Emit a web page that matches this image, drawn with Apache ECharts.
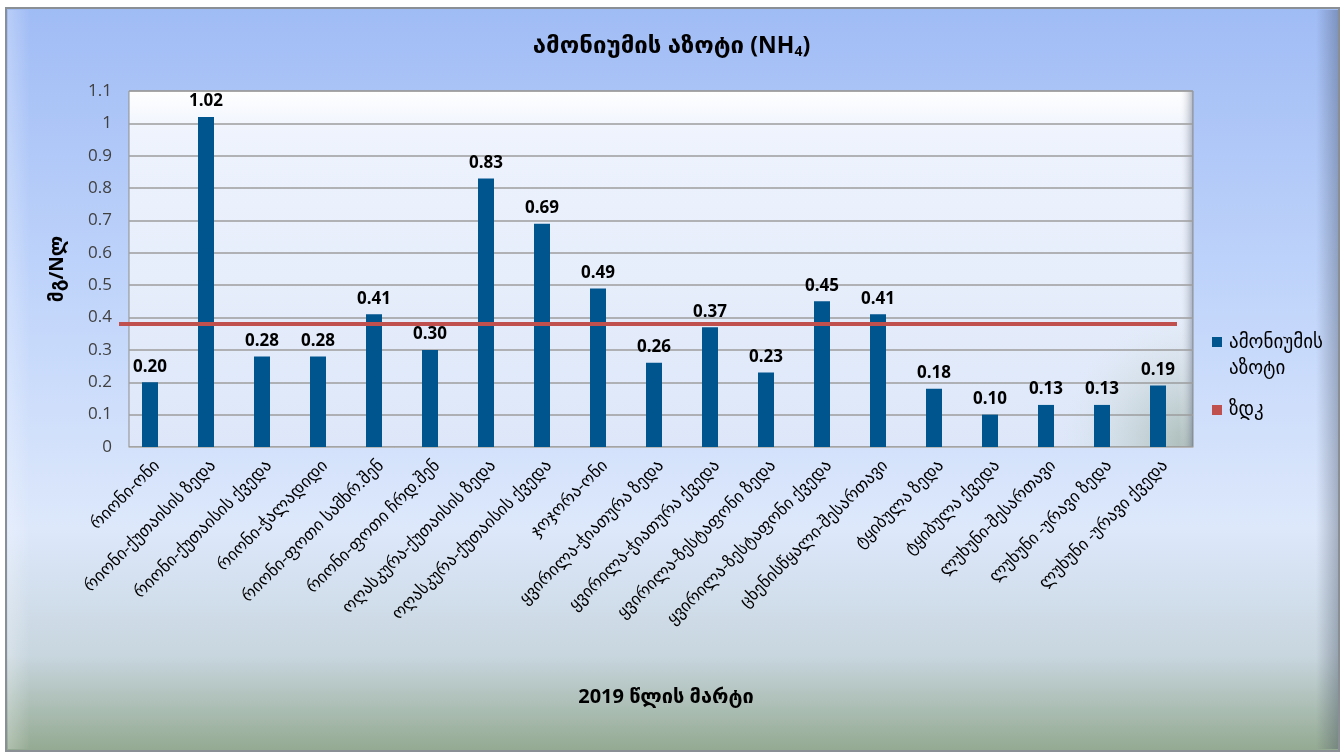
<!DOCTYPE html>
<html>
<head>
<meta charset="utf-8">
<script src="https://cdn.jsdelivr.net/npm/echarts@6/dist/echarts.min.js"></script>
<style>
  html, body { margin: 0; padding: 0; background: #ffffff; }
  #chart { width: 1343px; height: 754px; }
</style>
</head>
<body>
<div id="chart"></div>
<script>
// Monitoring points (March 2019)
const categories = [
  'რიონი-ონი',
  'რიონი-ქუთაისის ზედა',
  'რიონი-ქუთაისის ქვედა',
  'რიონი-ჭალადიდი',
  'რიონი-ფოთი სამხრ.შენ',
  'რიონი-ფოთი ჩრდ.შენ',
  'ოღასკურა-ქუთაისის ზედა',
  'ოღასკურა-ქუთაისის ქვედა',
  'ჯოჯორა-ონი',
  'ყვირილა-ჭიათურა ზედა',
  'ყვირილა-ჭიათურა ქვედა',
  'ყვირილა-ზესტაფონი ზედა',
  'ყვირილა-ზესტაფონი ქვედა',
  'ცხენისწყალი-შესართავი',
  'ტყიბულა ზედა',
  'ტყიბულა ქვედა',
  'ლუხუნი-შესართავი',
  'ლუხუნი -ურავი ზედა',
  'ლუხუნი -ურავი ქვედა'
];

// Ammonium nitrogen, mg/l
const ammonium = [0.20, 1.02, 0.28, 0.28, 0.41, 0.30, 0.83, 0.69, 0.49, 0.26,
                  0.37, 0.23, 0.45, 0.41, 0.18, 0.10, 0.13, 0.13, 0.19];

// Maximum permissible concentration
const limitValue = 0.38;

const yTicks = { min: 0, max: 1.1, interval: 0.1 };

const seriesNames = { bars: 'ამონიუმის აზოტი', limit: 'ზდკ' };
const titleMain = 'ამონიუმის აზოტი';
const yName = 'მგ/Nლ';
const xName = '2019 წლის მარტი';

const FONT = "'Open Sans', 'DejaVu Sans', sans-serif";
const BAR = '#00558f';
const RED = '#c0504d';

const chart = echarts.init(document.getElementById('chart'), null, { renderer: 'canvas' });

const plot = { left: 129, top: 91, width: 1064, height: 356 };

chart.setOption({
  animation: false,
  backgroundColor: '#ffffff',
  graphic: [
    // outer frame
    {
      type: 'rect', z: -10, silent: true,
      shape: { x: 6, y: 8, width: 1333, height: 743 },
      style: {
        fill: new echarts.graphic.LinearGradient(0, 0, 0, 1, [
          { offset: 0, color: '#a0bcf5' },
          { offset: 0.4, color: '#c2d6fb' },
          { offset: 0.7, color: '#dde8fb' },
          { offset: 0.87, color: '#c8d6df' },
          { offset: 1, color: '#93a990' }
        ]),
        stroke: '#8a8f96', lineWidth: 2
      }
    },
    // bevel shading of the frame
    {
      type: 'rect', z: -9, silent: true,
      shape: { x: 8, y: 10, width: 22, height: 739 },
      style: {
        fill: new echarts.graphic.LinearGradient(0, 0, 1, 0, [
          { offset: 0, color: 'rgba(255,255,255,0.25)' },
          { offset: 1, color: 'rgba(255,255,255,0)' }
        ])
      }
    },
    {
      type: 'rect', z: -9, silent: true,
      shape: { x: 1316, y: 10, width: 22, height: 739 },
      style: {
        fill: new echarts.graphic.LinearGradient(0, 0, 1, 0, [
          { offset: 0, color: 'rgba(60,70,90,0)' },
          { offset: 1, color: 'rgba(60,70,90,0.35)' }
        ])
      }
    },
    // plot wall
    {
      type: 'rect', z: -8, silent: true,
      shape: { x: plot.left, y: plot.top, width: plot.width, height: plot.height },
      style: {
        fill: new echarts.graphic.LinearGradient(0, 0, 0, 1, [
          { offset: 0, color: '#ffffff' },
          { offset: 0.12, color: '#eef3fd' },
          { offset: 1, color: '#dde7f9' }
        ]),
        stroke: '#8d8d8d', lineWidth: 1
      }
    },
    // shaded lower-right corner of the wall
    {
      type: 'rect', z: -7, silent: true,
      shape: { x: 1040, y: 300, width: 153, height: 147 },
      style: {
        fill: new echarts.graphic.RadialGradient(1, 1, 0.9, [
          { offset: 0, color: 'rgba(120,145,120,0.55)' },
          { offset: 1, color: 'rgba(200,215,205,0)' }
        ])
      }
    },
    // right side wall
    {
      type: 'rect', z: -7, silent: true,
      shape: { x: 1179, y: plot.top, width: 14, height: plot.height },
      style: {
        fill: new echarts.graphic.LinearGradient(0, 0, 1, 0, [
          { offset: 0, color: 'rgba(255,255,255,0)' },
          { offset: 1, color: 'rgba(110,120,140,0.55)' }
        ])
      }
    },
    // legend
    {
      type: 'rect', silent: true,
      shape: { x: 1212, y: 337, width: 10, height: 10 },
      style: { fill: BAR }
    },
    {
      type: 'text', silent: true,
      x: 1229, y: 330,
      style: {
        text: 'ამონიუმის\nაზოტი', font: '19px ' + FONT, fill: '#000',
        lineHeight: 26, verticalAlign: 'top'
      }
    },
    {
      type: 'rect', silent: true,
      shape: { x: 1212, y: 405, width: 10, height: 10 },
      style: { fill: RED }
    },
    {
      type: 'text', silent: true,
      x: 1229, y: 410,
      style: { text: seriesNames.limit, font: '19px ' + FONT, fill: '#000', verticalAlign: 'middle' }
    }
  ],
  title: [
    {
      text: '{g|' + titleMain + ' }{n|(NH}{s|4}{n|)}',
      left: 'center', top: 28,
      textStyle: {
        rich: {
          g: { fontFamily: FONT, fontSize: 24, fontWeight: 'bold', color: '#000' },
          n: { fontFamily: FONT, fontSize: 23, fontWeight: 'bold', color: '#000' },
          s: { fontFamily: FONT, fontSize: 14, fontWeight: 'bold', color: '#000', verticalAlign: 'bottom', padding: [12, 0, 0, 0] }
        }
      }
    },
    {
      text: xName,
      left: 661, top: 682, textAlign: 'center',
      textStyle: { fontFamily: FONT, fontSize: 20, fontWeight: 'bold', color: '#000' }
    }
  ],
  grid: [
    // axes, ticks and gridlines
    { left: plot.left, top: plot.top, width: plot.width, height: plot.height, containLabel: false },
    // columns (drawn slightly forward in depth)
    { left: plot.left - 7, top: plot.top, width: plot.width, height: plot.height, containLabel: false },
    // limit line
    { left: 119, top: plot.top, width: 1058, height: plot.height, containLabel: false }
  ],
  xAxis: [
    {
      type: 'category', gridIndex: 0, data: categories,
      axisLine: { show: true, lineStyle: { color: '#b8b8b8', width: 1 } },
      axisTick: { show: false },
      axisLabel: {
        interval: 0, rotate: 45, margin: 16,
        fontFamily: FONT, fontSize: 17, color: '#000'
      }
    },
    {
      type: 'category', gridIndex: 1, data: categories, show: false
    },
    {
      type: 'value', gridIndex: 2, min: 0, max: 1, show: false
    }
  ],
  yAxis: [
    {
      type: 'value', gridIndex: 0, min: yTicks.min, max: yTicks.max, interval: yTicks.interval,
      name: yName, nameLocation: 'middle', nameGap: 62, nameRotate: 90,
      nameTextStyle: { fontFamily: FONT, fontSize: 19, fontWeight: 'bold', color: '#000' },
      axisLine: { show: false },
      axisTick: { show: false },
      axisLabel: {
        margin: 17, fontFamily: FONT, fontSize: 17, color: '#404040',
        formatter: v => String(Math.round(v * 10) / 10)
      },
      splitLine: { show: true, lineStyle: { color: '#9c9c9c', width: 1.5 } }
    },
    {
      type: 'value', gridIndex: 1, min: yTicks.min, max: yTicks.max, show: false
    },
    {
      type: 'value', gridIndex: 2, min: yTicks.min, max: yTicks.max, show: false
    }
  ],
  series: [
    {
      name: seriesNames.bars,
      type: 'bar',
      xAxisIndex: 1, yAxisIndex: 1,
      data: ammonium,
      barWidth: 16,
      itemStyle: { color: BAR },
      label: {
        show: true, position: 'top', distance: 7,
        fontFamily: FONT, fontSize: 17, fontWeight: 'bold', color: '#000',
        formatter: p => p.value.toFixed(2)
      },
      z: 3
    },
    {
      name: seriesNames.limit,
      type: 'line',
      xAxisIndex: 2, yAxisIndex: 2,
      data: [[0, limitValue], [1, limitValue]],
      symbol: 'none',
      lineStyle: { color: RED, width: 4 },
      z: 4
    }
  ]
});
</script>
</body>
</html>
